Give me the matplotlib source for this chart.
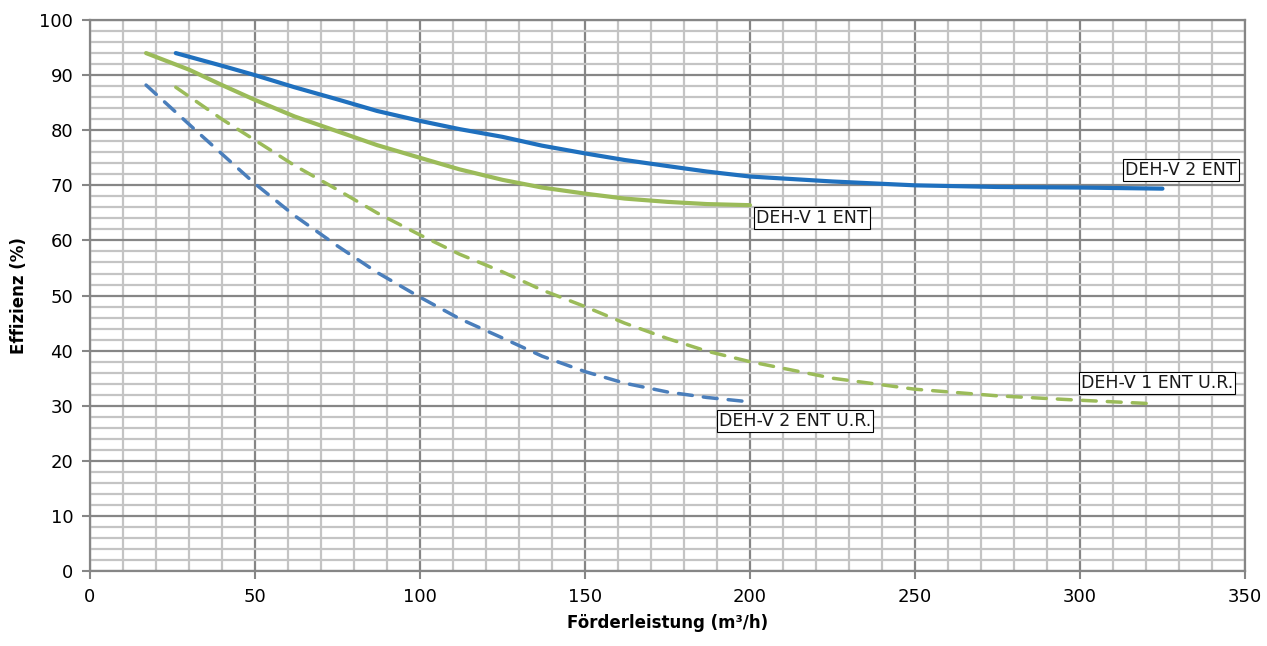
import matplotlib
matplotlib.use('Agg')
from matplotlib import pyplot as plt
from matplotlib.ticker import MultipleLocator

# Kurven
x_2ent = [26, 40, 50, 62, 75, 87, 100, 112, 125, 137, 150, 162, 175, 187, 200, 225, 250, 275, 300, 325]
y_2ent = [94.0, 91.7, 90.0, 87.8, 85.6, 83.5, 81.7, 80.2, 78.8, 77.2, 75.8, 74.6, 73.5, 72.5, 71.6,
          70.7, 70.0, 69.7, 69.6, 69.4]

x_1ent = [17, 30, 40, 50, 62, 75, 87, 100, 112, 125, 137, 150, 162, 175, 187, 200]
y_1ent = [94.0, 91.0, 88.2, 85.5, 82.5, 79.8, 77.3, 75.0, 72.9, 71.0, 69.6, 68.5, 67.6, 67.0, 66.6, 66.4]

x_2ent_ur = [17, 32, 50, 62, 75, 87, 100, 112, 125, 137, 150, 162, 175, 187, 200]
y_2ent_ur = [88.2, 80.0, 70.3, 64.5, 59.0, 54.2, 49.7, 45.8, 42.3, 39.0, 36.2, 34.1, 32.5, 31.5, 30.7]

x_1ent_ur = [26, 40, 50, 62, 75, 87, 100, 112, 125, 137, 150, 162, 175, 187, 200, 225, 250, 275, 300, 321]
y_1ent_ur = [87.8, 82.0, 78.2, 73.6, 69.2, 65.0, 61.0, 57.5, 54.3, 51.0, 48.0, 45.0, 42.2, 39.9, 38.0,
             35.0, 33.0, 31.8, 31.0, 30.4]

labels = ['DEH-V 2 ENT', 'DEH-V 1 ENT', 'DEH-V 2 ENT U.R.', 'DEH-V 1 ENT U.R.']
label_x = [330.6, 218.8, 213.6, 323.3]
label_y = [72.8, 64.1, 27.2, 34.1]

plt.rcParams['font.family'] = ['DejaVu Sans']

fig = plt.figure(figsize=(12.67, 6.46), dpi=100)
ax = fig.add_axes([0.071, 0.116, 0.9116, 0.853])

ax.plot(x_2ent, y_2ent, color='#1F70BE', lw=3.0, solid_capstyle='round', zorder=5)
ax.plot(x_1ent, y_1ent, color='#9BBB59', lw=3.0, solid_capstyle='round', zorder=5)
ax.plot(x_2ent_ur, y_2ent_ur, color='#4A7EBB', lw=2.5, dashes=(4.0, 3.2),
        dash_capstyle='round', zorder=5)
ax.plot(x_1ent_ur, y_1ent_ur, color='#9BBB59', lw=2.5, dashes=(4.0, 3.2),
        dash_capstyle='round', zorder=5)

for t, tx, ty in zip(labels, label_x, label_y):
    ax.text(tx, ty, t, ha='center', va='center', fontsize=12.5, color='#1a1a1a', zorder=6,
            bbox=dict(boxstyle='square,pad=0.12', fc='white', ec='black', lw=0.8))

ax.set_xlim(0, 350)
ax.set_ylim(0, 100)
ax.xaxis.set_major_locator(MultipleLocator(50))
ax.xaxis.set_minor_locator(MultipleLocator(10))
ax.yaxis.set_major_locator(MultipleLocator(10))
ax.yaxis.set_minor_locator(MultipleLocator(2))

ax.grid(which='minor', color='#C4C4C4', lw=1.6)
ax.grid(which='major', color='#868686', lw=1.6)
ax.set_axisbelow(True)

for s in ax.spines.values():
    s.set_color('#868686')
    s.set_linewidth(1.6)

ax.tick_params(which='major', length=6, width=1.5, color='#868686', labelsize=13, pad=6)
ax.tick_params(which='minor', length=0)

ax.set_xlabel('Förderleistung (m³/h)', fontsize=12, fontweight='bold', labelpad=6)
ax.set_ylabel('Effizienz (%)', fontsize=12, fontweight='bold', labelpad=8)

plt.savefig('out.png', dpi=100)
